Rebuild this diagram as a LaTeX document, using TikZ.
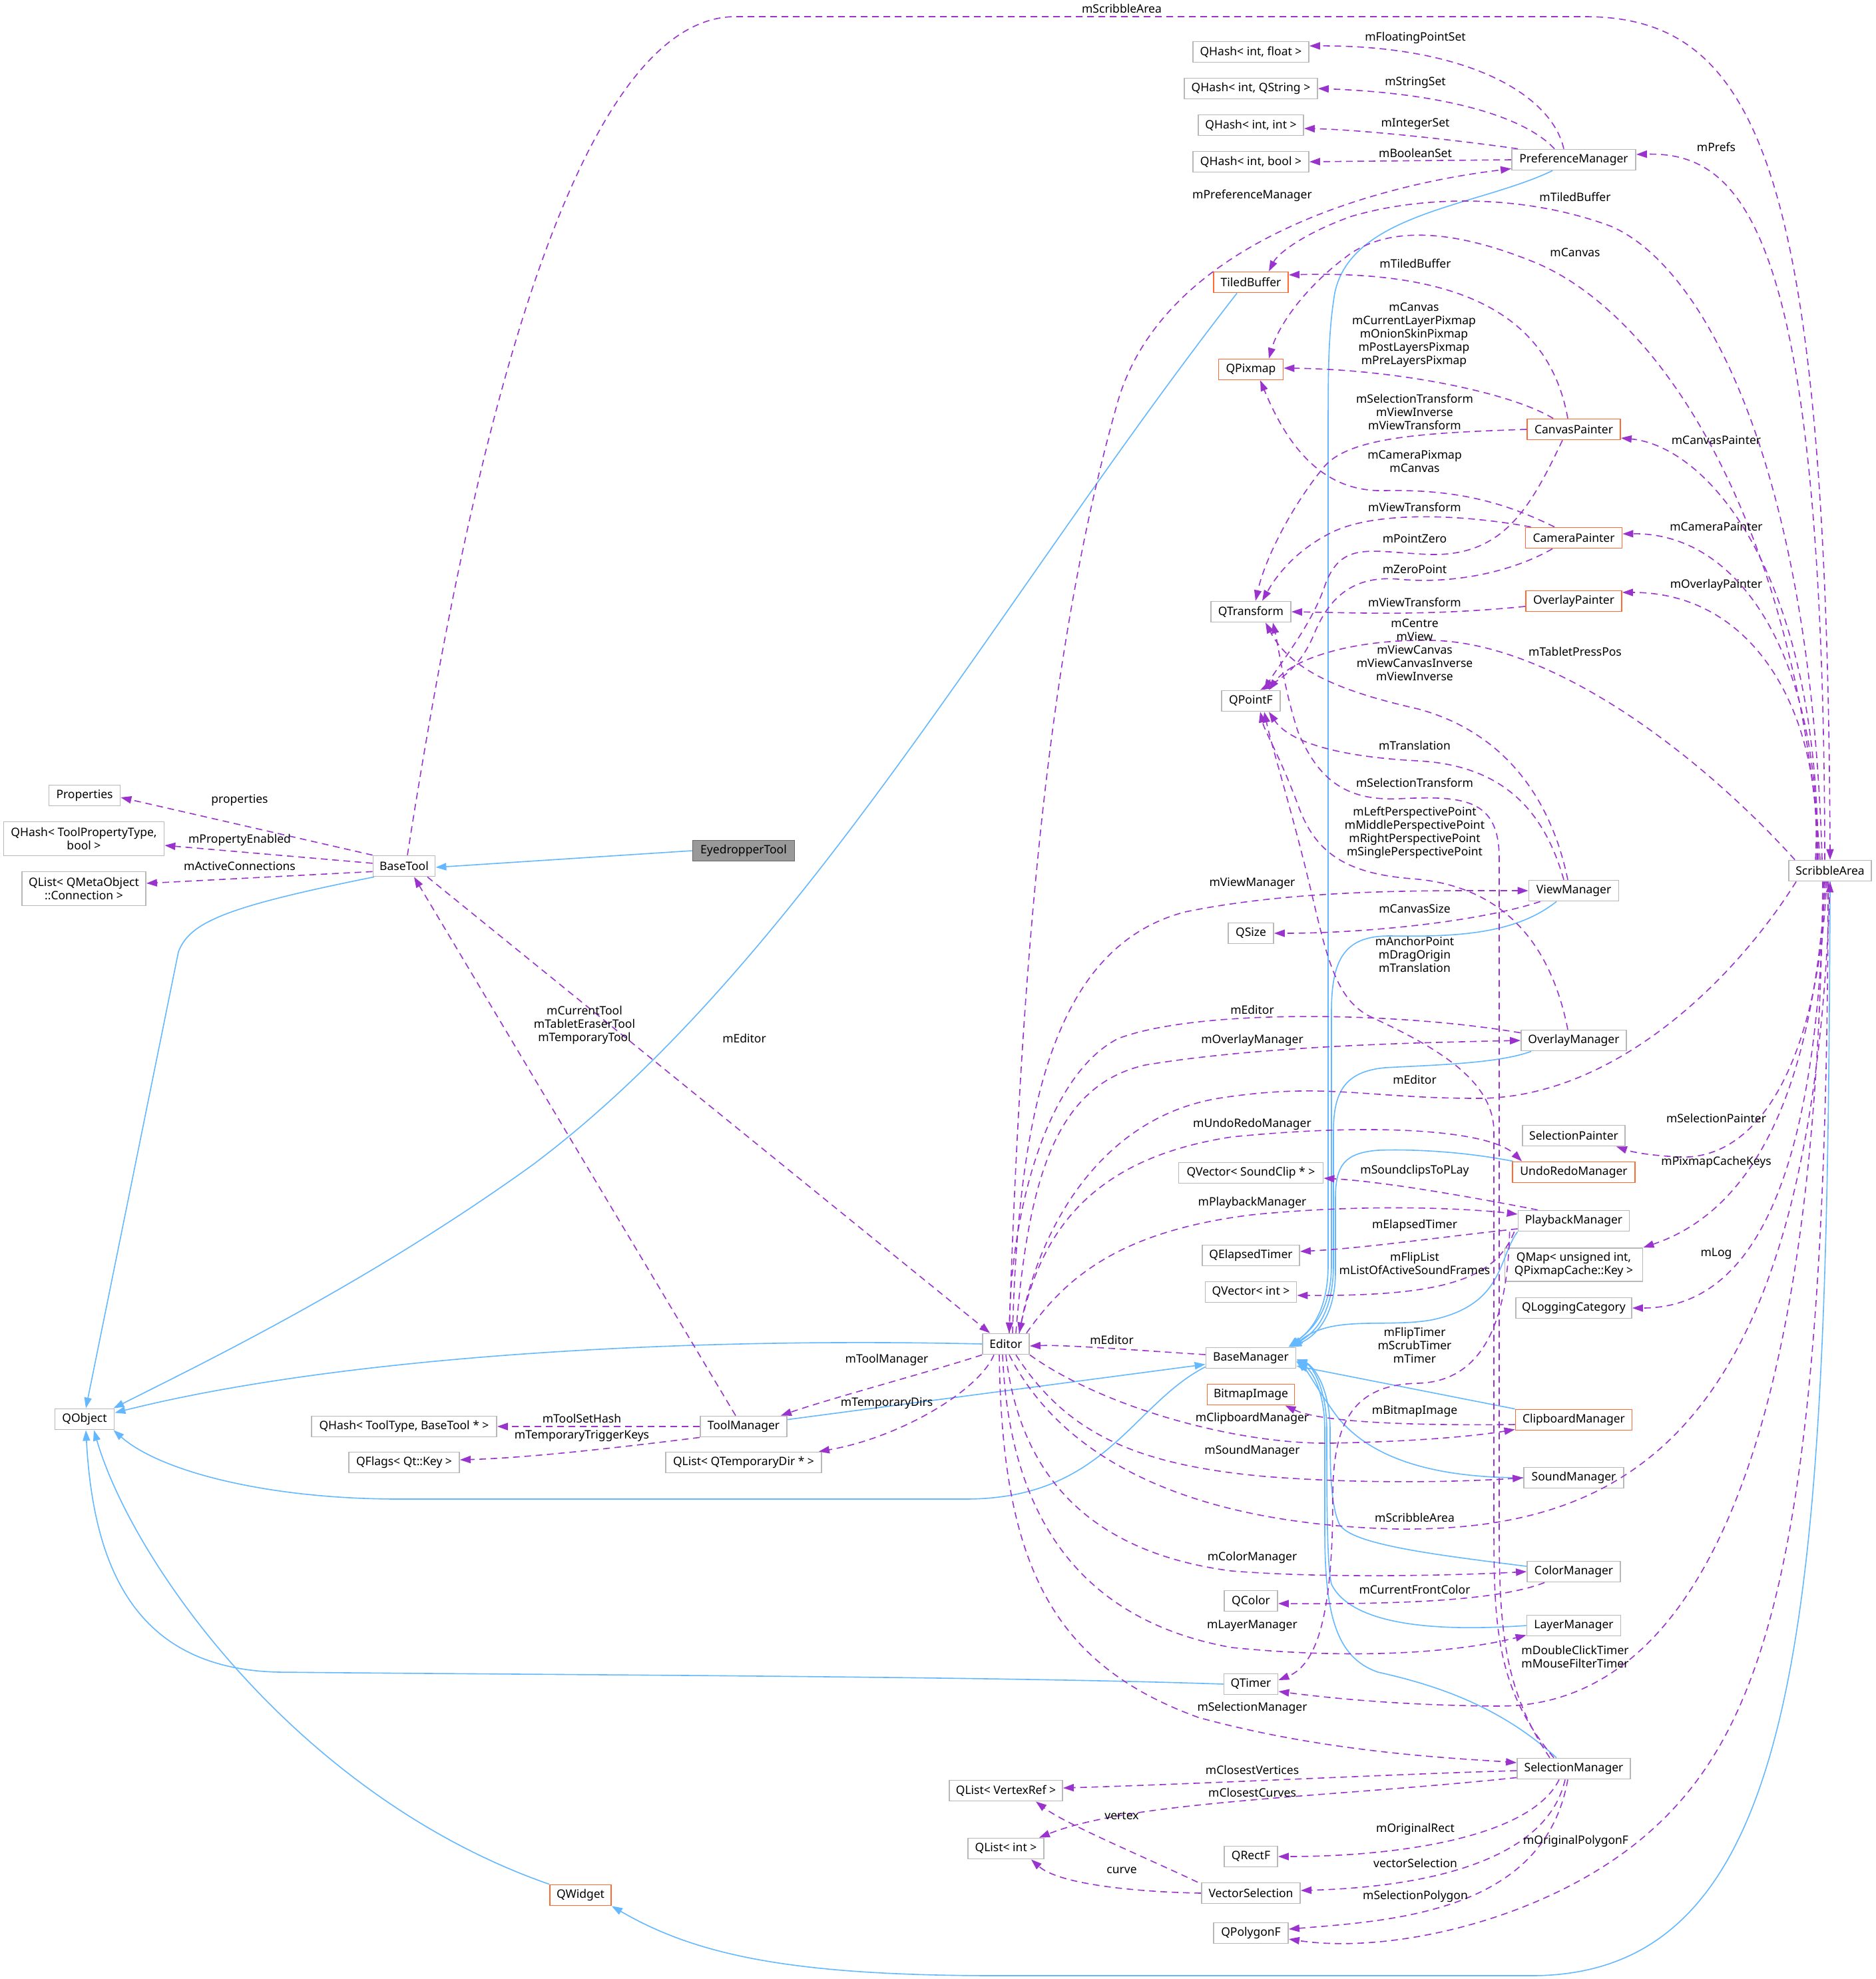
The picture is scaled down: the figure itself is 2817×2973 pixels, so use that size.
\documentclass[tikz,border=0pt]{standalone}
\usepackage{fontspec}
\setmainfont{Noto Sans}
\usetikzlibrary{arrows.meta,calc}
\definecolor{purp}{HTML}{9A32CD}
\definecolor{blueln}{HTML}{63B8FF}
\definecolor{boxgray}{HTML}{B8B8B8}
\definecolor{orangeb}{HTML}{FF6A33}
\definecolor{grayfill}{HTML}{999999}
\definecolor{graydark}{HTML}{666666}
\newcommand{\dfont}{\fontsize{17.5}{20}\selectfont}
\tikzset{
  nbox/.style={draw=boxgray, fill=white, line width=1.8pt, minimum height=31pt, inner xsep=0pt, inner ysep=0pt, font=\dfont, align=center},
  nobox/.style={nbox, draw=orangeb},
  ngbox/.style={nbox, draw=graydark, fill=grayfill},
  dep/.style={draw=purp, line width=1.6pt, dash pattern=on 10pt off 7pt, -{Triangle[length=16pt,width=11pt]}},
  inh/.style={draw=blueln, line width=1.6pt, -{Triangle[length=16pt,width=11pt]}},
  lbl/.style={font=\dfont, align=center, inner sep=0pt}
}
\begin{document}
\begin{tikzpicture}[x=1pt,y=-1pt]
\fill[white] (0,0) rectangle (2817,2973);
\useasboundingbox (0,0) rectangle (2817,2973);
% ---------- nodes ----------
\node[nbox, minimum width=107pt] (Properties) at (127,1195) {Properties};
\node[nbox, minimum width=241pt, minimum height=51pt] (QHashTPT) at (126,1260) {QHash< ToolPropertyType,\\ bool >};
\node[nbox, minimum width=186pt, minimum height=51pt] (QListQMO) at (126,1335) {QList< QMetaObject\\ ::Connection >};
\node[nbox, minimum width=93pt] (BaseTool) at (607,1301) {BaseTool};
\node[ngbox, minimum width=153pt] (Eyedropper) at (1117,1278) {EyedropperTool};
\node[nbox, minimum width=89pt] (QObject) at (127,2132) {QObject};
\node[nbox, minimum width=278pt] (QHashTT) at (607,2143) {QHash< ToolType, BaseTool * >};
\node[nbox, minimum width=130pt] (ToolManager) at (1117,2143) {ToolManager};
\node[nbox, minimum width=166pt] (QFlags) at (607,2197) {QFlags< Qt::Key >};
\node[nbox, minimum width=234pt] (QListTD) at (1117,2197) {QList< QTemporaryDir * >};
\node[nbox, minimum width=70pt] (Editor) at (1511,2019) {Editor};
\node[nobox, minimum width=92pt] (QWidget) at (872,2847) {QWidget};
\node[nbox, minimum width=174pt] (QHashF) at (1879,78) {QHash< int, float >};
\node[nbox, minimum width=200pt] (QHashS) at (1879,133) {QHash< int, QString >};
\node[nbox, minimum width=158pt] (QHashI) at (1879,188) {QHash< int, int >};
\node[nbox, minimum width=174pt] (QHashB) at (1879,243) {QHash< int, bool >};
\node[nbox, minimum width=186pt] (PreferenceManager) at (2364,240) {PreferenceManager};
\node[nobox, minimum width=112pt] (TiledBuffer) at (1879,424) {TiledBuffer};
\node[nobox, minimum width=97pt] (QPixmap) at (1879,555) {QPixmap};
\node[nobox, minimum width=140pt] (CanvasPainter) at (2364,645) {CanvasPainter};
\node[nobox, minimum width=145pt] (CameraPainter) at (2364,808) {CameraPainter};
\node[nobox, minimum width=144pt] (OverlayPainter) at (2364,903) {OverlayPainter};
\node[nbox, minimum width=120pt] (QTransform) at (1879,919) {QTransform};
\node[nbox, minimum width=88pt] (QPointF) at (1879,1053) {QPointF};
\node[nbox, minimum width=124pt] (ScribbleArea) at (2749,1308) {ScribbleArea};
\node[nbox, minimum width=135pt] (ViewManager) at (2364,1338) {ViewManager};
\node[nbox, minimum width=68pt] (QSize) at (1879,1402) {QSize};
\node[nbox, minimum width=158pt] (OverlayManager) at (2364,1563) {OverlayManager};
\node[nbox, minimum width=154pt] (SelectionPainter) at (2364,1706) {SelectionPainter};
\node[nobox, minimum width=184pt] (UndoRedoManager) at (2364,1761) {UndoRedoManager};
\node[nbox, minimum width=217pt] (QVectorSC) at (1879,1762) {QVector< SoundClip * >};
\node[nbox, minimum width=167pt] (PlaybackManager) at (2364,1834) {PlaybackManager};
\node[nbox, minimum width=146pt] (QElapsedTimer) at (1879,1886) {QElapsedTimer};
\node[nbox, minimum width=207pt, minimum height=50pt] (QMap) at (2364,1900) {QMap< unsigned int,\\ QPixmapCache::Key >};
\node[nbox, minimum width=137pt] (QVectorInt) at (1879,1941) {QVector< int >};
\node[nbox, minimum width=174pt] (QLoggingCategory) at (2364,1965) {QLoggingCategory};
\node[nbox, minimum width=135pt] (BaseManager) at (1879,2040) {BaseManager};
\node[nobox, minimum width=131pt] (BitmapImage) at (1879,2095) {BitmapImage};
\node[nobox, minimum width=175pt] (ClipboardManager) at (2364,2133) {ClipboardManager};
\node[nbox, minimum width=150pt] (SoundManager) at (2364,2220) {SoundManager};
\node[nbox, minimum width=140pt] (ColorManager) at (2364,2361) {ColorManager};
\node[nbox, minimum width=80pt] (QColor) at (1879,2405) {QColor};
\node[nbox, minimum width=141pt] (LayerManager) at (2364,2442) {LayerManager};
\node[nbox, minimum width=81pt] (QTimer) at (1879,2530) {QTimer};
\node[nbox, minimum width=170pt] (SelectionManager) at (2364,2657) {SelectionManager};
\node[nbox, minimum width=170pt] (QListVR) at (1511,2690) {QList< VertexRef >};
\node[nbox, minimum width=114pt] (QListInt) at (1511,2777) {QList< int >};
\node[nbox, minimum width=80pt] (QRectF) at (1879,2789) {QRectF};
\node[nbox, minimum width=148pt] (VectorSelection) at (1879,2844) {VectorSelection};
\node[nbox, minimum width=112pt] (QPolygonF) at (1879,2904) {QPolygonF};
% ---------- inheritance (blue) ----------
\draw[inh] (Eyedropper.west) -- ($(BaseTool.east)+(0,2)$);
\draw[inh] (BaseTool.200) .. controls (340,1362) and (285,1385) .. (268,1430) -- ($(QObject.north)+(2,0)$);
\draw[inh] ($(TiledBuffer.south west)+(36,0)$) .. controls (1500,900) and (1200,1450) .. (800,1750) .. controls (550,1930) and (300,2050) .. ($(QObject.north east)+(-2,0)$);
\draw[inh] (Editor.west) .. controls (1000,2008) and (500,2040) .. (QObject.12);
\draw[inh] ($(BaseManager.south west)+(0,-3)$) .. controls (1700,2110) and (1660,2252) .. (1450,2252) -- (600,2252) .. controls (400,2252) and (240,2210) .. ($(QObject.south east)+(-2,0)$);
\draw[inh] (QTimer.west) .. controls (1500,2518) and (800,2516) .. (420,2512) .. controls (200,2508) and (140,2350) .. ($(QObject.south)+(2,0)$);
\draw[inh] (QWidget.north west) .. controls (450,2700) and (200,2350) .. ($(QObject.south)+(14,0)$);
\draw[inh] (ScribbleArea.south) .. controls (2745,2400) and (2720,2968) .. (2300,2968) -- (1500,2968) .. controls (1200,2968) and (1050,2940) .. (QWidget.south east);
\draw[inh] (ToolManager.9) -- (BaseManager.188);
\draw[inh] ($(PreferenceManager.south)+(-32,0)$) .. controls (2220,310) and (2030,320) .. (2005,440) .. controls (1995,500) and (1995,560) .. (1995,650) -- (1995,1900) .. controls (1995,1980) and (1960,2005) .. ($(BaseManager.north east)+(-10,0)$);
\draw[inh] ($(ViewManager.south)+(-26,0)$) .. controls (2280,1400) and (2200,1408) .. (2090,1406) .. controls (2020,1405) and (2000,1440) .. (2000,1520) -- (2000,1900) .. controls (2000,1980) and (1960,2005) .. ($(BaseManager.north east)+(-12,0)$);
\draw[inh] ($(OverlayManager.south west)+(16,0)$) .. controls (2250,1598) and (2150,1600) .. (2080,1604) .. controls (2020,1610) and (2003,1640) .. (2003,1700) -- (2003,1900) .. controls (2003,1985) and (1965,2008) .. ($(BaseManager.north east)+(-10,0)$);
\draw[inh] ($(UndoRedoManager.north west)+(2,0)$) .. controls (2200,1730) and (2120,1726) .. (2070,1728) .. controls (2020,1732) and (2006,1750) .. (2006,1800) -- (2006,1910) .. controls (2006,1985) and (1970,2010) .. ($(BaseManager.north east)+(-8,0)$);
\draw[inh] (PlaybackManager.south west) .. controls (2250,1890) and (2260,1960) .. (2150,1983) .. controls (2080,1995) and (2000,1975) .. ($(BaseManager.north east)+(-6,0)$);
\draw[inh] (ClipboardManager.north west) -- ($(BaseManager.east)+(0,12)$);
\draw[inh] (SoundManager.west) .. controls (2150,2220) and (2060,2190) .. (2010,2130) .. controls (1980,2090) and (1965,2060) .. ($(BaseManager.east)+(0,5)$);
\draw[inh] ($(ColorManager.west)+(0,-8)$) .. controls (2150,2335) and (2030,2320) .. (2012,2290) .. controls (1998,2260) and (1998,2200) .. (1998,2150) .. controls (1998,2080) and (1970,2050) .. ($(BaseManager.east)+(0,2)$);
\draw[inh] (LayerManager.west) .. controls (2150,2452) and (2030,2440) .. (2000,2380) .. controls (1993,2350) and (1993,2250) .. (1993,2150) .. controls (1993,2080) and (1968,2050) .. ($(BaseManager.east)+(0,4)$);
\draw[inh] ($(SelectionManager.north)+(-26,0)$) .. controls (2250,2560) and (2150,2530) .. (2070,2512) .. controls (2005,2490) and (1990,2420) .. (1990,2300) -- (1990,2150) .. controls (1990,2080) and (1965,2055) .. ($(BaseManager.east)+(0,6)$);
% ---------- BaseTool / ToolManager ----------
\draw[dep] (BaseTool.north west) -- ($(Properties.east)+(0,3)$);
\draw[dep] (BaseTool.175) -- ($(QHashTPT.east)+(0,10)$);
\draw[dep] (BaseTool.190) -- ($(QListQMO.east)+(0,-8)$);
\draw[dep] ($(BaseTool.south)+(35,0)$) -- ($(Editor.north)+(-24,0)$);
\draw[dep] ($(BaseTool.north)+(5,0)$) .. controls (680,850) and (830,25) .. (1105,25) -- (2380,25) .. controls (2640,25) and (2745,250) .. (ScribbleArea.north);
\draw[dep] ($(ToolManager.north)+(-12,0)$) -- ($(BaseTool.south)+(15,0)$);
\draw[dep] (ToolManager.west) -- (QHashTT.east);
\draw[dep] (ToolManager.south west) .. controls (950,2172) and (800,2190) .. ($(QFlags.east)+(0,-4)$);
% ---------- Editor ----------
\draw[dep] (Editor.south west) .. controls (1400,2060) and (1250,2100) .. ($(ToolManager.north east)+(-10,0)$);
\draw[dep] ($(Editor.south)+(-18,0)$) .. controls (1470,2090) and (1350,2160) .. ($(QListTD.north east)+(-5,0)$);
\draw[dep] ($(Editor.north)+(5,0)$) .. controls (1535,1400) and (1580,950) .. (1680,600) .. controls (1750,370) and (2050,280) .. ($(PreferenceManager.south west)+(0,-3)$);
\draw[dep] ($(Editor.north)+(10,0)$) .. controls (1530,1650) and (1590,1420) .. (1780,1370) .. controls (1950,1335) and (2150,1338) .. (ViewManager.west);
\draw[dep] ($(Editor.north)+(15,0)$) .. controls (1545,1760) and (1590,1630) .. (1720,1600) .. controls (1900,1570) and (2150,1566) .. (OverlayManager.west);
\draw[dep] ($(OverlayManager.north west)+(0,5)$) .. controls (2100,1520) and (1800,1515) .. (1680,1560) .. controls (1580,1610) and (1520,1800) .. ($(Editor.north)+(5,0)$);
\draw[dep] ($(ScribbleArea.south west)+(12,0)$) .. controls (2600,1480) and (2420,1650) .. (2220,1650) .. controls (2050,1650) and (1990,1625) .. (1830,1650) .. controls (1650,1680) and (1560,1850) .. ($(Editor.north)+(20,0)$);
\draw[dep] ($(Editor.north)+(20,0)$) .. controls (1560,1850) and (1640,1740) .. (1850,1708) .. controls (2080,1685) and (2240,1700) .. ($(UndoRedoManager.north west)+(15,0)$);
\draw[dep] ($(Editor.north east)+(-5,0)$) .. controls (1600,1920) and (1680,1850) .. (1880,1825) .. controls (2050,1808) and (2200,1815) .. ($(PlaybackManager.west)+(0,-10)$);
\draw[dep] (Editor.south east) .. controls (1650,2110) and (1850,2170) .. (2000,2168) .. controls (2150,2165) and (2230,2155) .. ($(ClipboardManager.south west)+(0,-2)$);
\draw[dep] ($(Editor.south)+(15,0)$) .. controls (1600,2150) and (1700,2200) .. (1900,2218) .. controls (2050,2230) and (2200,2226) .. (SoundManager.west);
\draw[dep] ($(Editor.south)+(5,0)$) .. controls (1600,2200) and (1800,2290) .. (2100,2297) .. controls (2450,2300) and (2720,2150) .. (ScribbleArea.south);
\draw[dep] (Editor.south) .. controls (1530,2200) and (1620,2330) .. (1850,2360) .. controls (2000,2372) and (2200,2366) .. (ColorManager.west);
\draw[dep] ($(Editor.south)+(-5,0)$) .. controls (1515,2250) and (1600,2430) .. (1850,2475) .. controls (2050,2495) and (2200,2480) .. ($(LayerManager.south west)+(0,-2)$);
\draw[dep] ($(Editor.south)+(-10,0)$) .. controls (1505,2350) and (1580,2500) .. (1800,2580) .. controls (2000,2635) and (2200,2642) .. ($(SelectionManager.west)+(0,-9)$);
\draw[dep] ($(BaseManager.west)+(0,-5)$) .. controls (1700,2028) and (1600,2020) .. ($(Editor.east)+(0,3)$);
% ---------- PreferenceManager ----------
\draw[dep] ($(PreferenceManager.north)+(-15,0)$) .. controls (2330,140) and (2200,68) .. ($(QHashF.east)+(0,-9)$);
\draw[dep] ($(PreferenceManager.north)+(-29,0)$) .. controls (2290,175) and (2170,140) .. (QHashS.east);
\draw[dep] ($(PreferenceManager.north west)+(10,0)$) .. controls (2200,212) and (2050,195) .. ($(QHashI.east)+(0,5)$);
\draw[dep] (PreferenceManager.west) -- (QHashB.east);
% ---------- ScribbleArea ----------
\draw[dep] ($(ScribbleArea.north)+(-8,0)$) .. controls (2740,350) and (2620,228) .. ($(PreferenceManager.east)+(0,-8)$);
\draw[dep] ($(ScribbleArea.north)+(-12,0)$) .. controls (2720,700) and (2560,400) .. (2420,340) .. controls (2300,295) and (2150,290) .. (2030,325) .. controls (1960,350) and (1920,380) .. ($(TiledBuffer.north)+(27,0)$);
\draw[dep] ($(ScribbleArea.north)+(-15,0)$) .. controls (2700,800) and (2500,470) .. (2300,392) .. controls (2200,352) and (2100,335) .. (2030,380) .. controls (1960,430) and (1920,490) .. ($(QPixmap.north)+(27,0)$);
\draw[dep] ($(ScribbleArea.north)+(-18,0)$) .. controls (2730,850) and (2560,670) .. ($(CanvasPainter.east)+(0,13)$);
\draw[dep] ($(ScribbleArea.north)+(-20,0)$) .. controls (2735,1000) and (2620,800) .. ($(CameraPainter.east)+(0,-6)$);
\draw[dep] ($(ScribbleArea.north)+(-22,0)$) .. controls (2740,1080) and (2640,890) .. ($(OverlayPainter.east)+(0,-13)$);
\draw[dep] ($(ScribbleArea.north west)+(10,0)$) .. controls (2550,1130) and (2330,965) .. (2150,962) .. controls (2030,960) and (1940,990) .. ($(QPointF.north)+(27,0)$);
\draw[dep] ($(ScribbleArea.south)+(-5,0)$) .. controls (2730,1600) and (2640,1745) .. (2520,1738) .. controls (2470,1735) and (2450,1730) .. ($(SelectionPainter.south east)+(-14,0)$);
\draw[dep] ($(ScribbleArea.south)+(-7,0)$) .. controls (2720,1700) and (2600,1830) .. (QMap.north east);
\draw[dep] ($(ScribbleArea.south)+(-9,0)$) .. controls (2730,1800) and (2620,1965) .. (QLoggingCategory.east);
\draw[dep] ($(ScribbleArea.south)+(-11,0)$) .. controls (2730,2150) and (2560,2565) .. (2250,2563) .. controls (2100,2562) and (1990,2550) .. ($(QTimer.east)+(0,11)$);
\draw[dep] ($(ScribbleArea.south)+(-3,0)$) .. controls (2745,2350) and (2650,2620) .. (2450,2775) .. controls (2300,2890) and (2080,2935) .. ($(QPolygonF.east)+(0,9)$);
% ---------- painters ----------
\draw[dep] ($(CanvasPainter.north)+(-9,0)$) .. controls (2330,490) and (2220,405) .. ($(TiledBuffer.east)+(0,-11)$);
\draw[dep] ($(CanvasPainter.north west)+(40,0)$) .. controls (2270,590) and (2100,555) .. ($(QPixmap.east)+(0,-2)$);
\draw[dep] (CanvasPainter.west) .. controls (2150,650) and (2030,655) .. (1990,700) .. controls (1940,760) and (1900,840) .. ($(QTransform.north)+(7,0)$);
\draw[dep] ($(CanvasPainter.south)+(-17,0)$) .. controls (2300,760) and (2260,835) .. (2150,833) .. controls (2060,830) and (2015,810) .. (1990,880) .. controls (1970,940) and (1920,1000) .. ($(QPointF.north)+(20,0)$);
\draw[dep] ($(CameraPainter.north)+(-29,0)$) .. controls (2260,755) and (2190,735) .. (2080,737) .. controls (1980,740) and (1930,660) .. ($(QPixmap.south)+(14,0)$);
\draw[dep] ($(CameraPainter.north west)+(9,0)$) .. controls (2180,770) and (2060,770) .. (2000,800) .. controls (1950,825) and (1920,860) .. ($(QTransform.north)+(17,0)$);
\draw[dep] ($(CameraPainter.south)+(-32,0)$) .. controls (2270,860) and (2180,878) .. (2100,870) .. controls (2040,865) and (2000,890) .. (1975,950) .. controls (1955,1000) and (1925,1020) .. ($(QPointF.north)+(14,0)$);
\draw[dep] ($(OverlayPainter.west)+(0,8)$) .. controls (2150,925) and (2050,921) .. (QTransform.east);
% ---------- ViewManager / OverlayManager ----------
\draw[dep] ($(ViewManager.north)+(-9,0)$) .. controls (2330,1200) and (2260,1100) .. (2130,1065) .. controls (2020,1040) and (1940,1010) .. ($(QTransform.south)+(22,0)$);
\draw[dep] ($(ViewManager.north)+(-15,0)$) .. controls (2320,1220) and (2260,1150) .. (2130,1143) .. controls (2030,1138) and (1940,1120) .. ($(QPointF.south)+(27,0)$);
\draw[dep] ($(ViewManager.south west)+(18,0)$) .. controls (2220,1385) and (2050,1402) .. (QSize.east);
\draw[dep] ($(OverlayManager.north)+(-9,0)$) .. controls (2330,1420) and (2260,1330) .. (2120,1320) .. controls (2020,1312) and (1975,1280) .. (1950,1210) .. controls (1920,1130) and (1900,1100) .. ($(QPointF.south)+(14,0)$);
% ---------- SelectionManager ----------
\draw[dep] ($(SelectionManager.north)+(-36,0)$) .. controls (2260,2540) and (2252,2450) .. (2252,2300) -- (2252,1290) .. controls (2252,1200) and (2200,1195) .. (2100,1200) .. controls (2020,1203) and (1980,1170) .. (1950,1100) .. controls (1930,1040) and (1920,970) .. ($(QTransform.south)+(33,0)$);
\draw[dep] ($(SelectionManager.north)+(-30,0)$) .. controls (2250,2540) and (2244,2450) .. (2244,2300) -- (2244,1700) .. controls (2244,1620) and (2150,1570) .. (2060,1528) .. controls (2000,1500) and (1990,1420) .. (1960,1300) .. controls (1935,1200) and (1910,1120) .. ($(QPointF.south)+(20,0)$);
\draw[dep] ($(SelectionManager.west)+(0,3)$) .. controls (2100,2665) and (1800,2680) .. ($(QListVR.east)+(0,-4)$);
\draw[dep] ($(SelectionManager.south west)+(0,-3)$) .. controls (2000,2700) and (1700,2705) .. ($(QListInt.north east)+(-8,0)$);
\draw[dep] ($(SelectionManager.south)+(-22,0)$) .. controls (2300,2760) and (2100,2789) .. (QRectF.east);
\draw[dep] ($(SelectionManager.south)+(-13,0)$) .. controls (2320,2810) and (2100,2836) .. ($(VectorSelection.east)+(0,-4)$);
\draw[dep] ($(SelectionManager.south)+(-9,0)$) .. controls (2320,2870) and (2100,2885) .. ($(QPolygonF.east)+(0,-6)$);
\draw[dep] ($(VectorSelection.north west)+(-5,0)$) .. controls (1720,2790) and (1600,2740) .. ($(QListVR.south)+(45,0)$);
\draw[dep] (VectorSelection.west) .. controls (1700,2842) and (1590,2830) .. ($(QListInt.south east)+(-20,0)$);
% ---------- other managers ----------
\draw[dep] ($(PlaybackManager.north west)+(30,0)$) .. controls (2220,1800) and (2080,1775) .. ($(QVectorSC.east)+(0,8)$);
\draw[dep] ($(PlaybackManager.west)+(0,12)$) .. controls (2150,1860) and (2050,1875) .. ($(QElapsedTimer.east)+(0,-6)$);
\draw[dep] ($(PlaybackManager.south west)+(-5,0)$) .. controls (2245,1925) and (2160,1947) .. ($(QVectorInt.east)+(0,5)$);
\draw[dep] ($(PlaybackManager.south west)+(-12,0)$) .. controls (2265,1960) and (2240,2075) .. (2130,2078) .. controls (2030,2080) and (2002,2140) .. (2002,2250) .. controls (2002,2420) and (1980,2500) .. ($(QTimer.east)+(0,-6)$);
\draw[dep] ($(ColorManager.south west)+(27,0)$) .. controls (2250,2405) and (2100,2410) .. ($(QColor.east)+(0,4)$);
\draw[dep] ($(ClipboardManager.west)+(0,7)$) .. controls (2100,2142) and (1980,2135) .. ($(BitmapImage.south east)+(-15,0)$);
% ---------- labels ----------
\node[lbl] (l1) at (360,1202) {properties};
\node[lbl] (l2) at (360,1262) {mPropertyEnabled};
\node[lbl] (l3) at (360,1301) {mActiveConnections};
\node[lbl] (l4) at (1685,13) {mScribbleArea};
\node[lbl] (l5) at (878,1540) {mCurrentTool\\mTabletEraserTool\\mTemporaryTool};
\node[lbl] (l6) at (1118,1560) {mEditor};
\node[lbl] (l7) at (874,2131) {mToolSetHash};
\node[lbl] (l8) at (874,2157) {mTemporaryTriggerKeys};
\node[lbl] (l9) at (1332,2043) {mToolManager};
\node[lbl] (l10) at (1332,2108) {mTemporaryDirs};
\node[lbl] (l11) at (1670,2013) {mEditor};
\node[lbl] (l12) at (2126,57) {mFloatingPointSet};
\node[lbl] (l13) at (2126,124) {mStringSet};
\node[lbl] (l14) at (2126,186) {mIntegerSet};
\node[lbl] (l15) at (2126,230) {mBooleanSet};
\node[lbl] (l16) at (2578,221) {mPrefs};
\node[lbl] (l17) at (1881,294) {mPreferenceManager};
\node[lbl] (l18) at (2366,296) {mTiledBuffer};
\node[lbl] (l19) at (2366,379) {mCanvas};
\node[lbl] (l20) at (2126,396) {mTiledBuffer};
\node[lbl] (l21) at (2124,503) {mCanvas\\mCurrentLayerPixmap\\mOnionSkinPixmap\\mPostLayersPixmap\\mPreLayersPixmap};
\node[lbl] (l22) at (2125,619) {mSelectionTransform\\mViewInverse\\mViewTransform};
\node[lbl] (l23) at (2578,661) {mCanvasPainter};
\node[lbl] (l24) at (2125,693) {mCameraPixmap\\mCanvas};
\node[lbl] (l25) at (2125,762) {mViewTransform};
\node[lbl] (l26) at (2578,791) {mCameraPainter};
\node[lbl] (l27) at (2125,809) {mPointZero};
\node[lbl] (l28) at (2125,855) {mZeroPoint};
\node[lbl] (l29) at (2578,879) {mOverlayPainter};
\node[lbl] (l30) at (2125,905) {mViewTransform};
\node[lbl] (l31) at (2125,976) {mCentre\\mView\\mViewCanvas\\mViewCanvasInverse\\mViewInverse};
\node[lbl] (l32) at (2366,979) {mTabletPressPos};
\node[lbl] (l33) at (2125,1120) {mTranslation};
\node[lbl] (l34) at (2125,1176) {mSelectionTransform};
\node[lbl] (l35) at (2125,1251) {mLeftPerspectivePoint\\mMiddlePerspectivePoint\\mRightPerspectivePoint\\mSinglePerspectivePoint};
\node[lbl] (l36) at (1881,1327) {mViewManager};
\node[lbl] (l37) at (2125,1365) {mCanvasSize};
\node[lbl] (l38) at (2125,1434) {mAnchorPoint\\mDragOrigin\\mTranslation};
\node[lbl] (l39) at (1881,1517) {mEditor};
\node[lbl] (l40) at (1881,1563) {mOverlayManager};
\node[lbl] (l41) at (2125,1622) {mEditor};
\node[lbl] (l42) at (2578,1680) {mSelectionPainter};
\node[lbl] (l43) at (1881,1689) {mUndoRedoManager};
\node[lbl] (l44) at (2578,1746) {mPixmapCacheKeys};
\node[lbl] (l45) at (2125,1759) {mSoundclipsToPLay};
\node[lbl] (l46) at (1881,1807) {mPlaybackManager};
\node[lbl] (l47) at (2125,1841) {mElapsedTimer};
\node[lbl] (l48) at (2578,1883) {mLog};
\node[lbl] (l49) at (2125,1898) {mFlipList\\mListOfActiveSoundFrames};
\node[lbl] (l50) at (2125,2021) {mFlipTimer\\mScrubTimer\\mTimer};
\node[lbl] (l51) at (2125,2120) {mBitmapImage};
\node[lbl] (l52) at (1881,2131) {mClipboardManager};
\node[lbl] (l53) at (1881,2180) {mSoundManager};
\node[lbl] (l54) at (2125,2280) {mScribbleArea};
\node[lbl] (l55) at (1881,2340) {mColorManager};
\node[lbl] (l56) at (2125,2388) {mCurrentFrontColor};
\node[lbl] (l57) at (1881,2442) {mLayerManager};
\node[lbl] (l58) at (2366,2489) {mDoubleClickTimer\\mMouseFilterTimer};
\node[lbl] (l59) at (1881,2566) {mSelectionManager};
\node[lbl] (l60) at (1881,2659) {mClosestVertices};
\node[lbl] (l61) at (1881,2693) {mClosestCurves};
\node[lbl] (l62) at (1685,2728) {vertex};
\node[lbl] (l63) at (2126,2748) {mOriginalRect};
\node[lbl] (l64) at (2367,2766) {mOriginalPolygonF};
\node[lbl] (l65) at (2126,2799) {vectorSelection};
\node[lbl] (l66) at (1685,2810) {curve};
\node[lbl] (l67) at (2126,2849) {mSelectionPolygon};
\end{tikzpicture}
\end{document}
